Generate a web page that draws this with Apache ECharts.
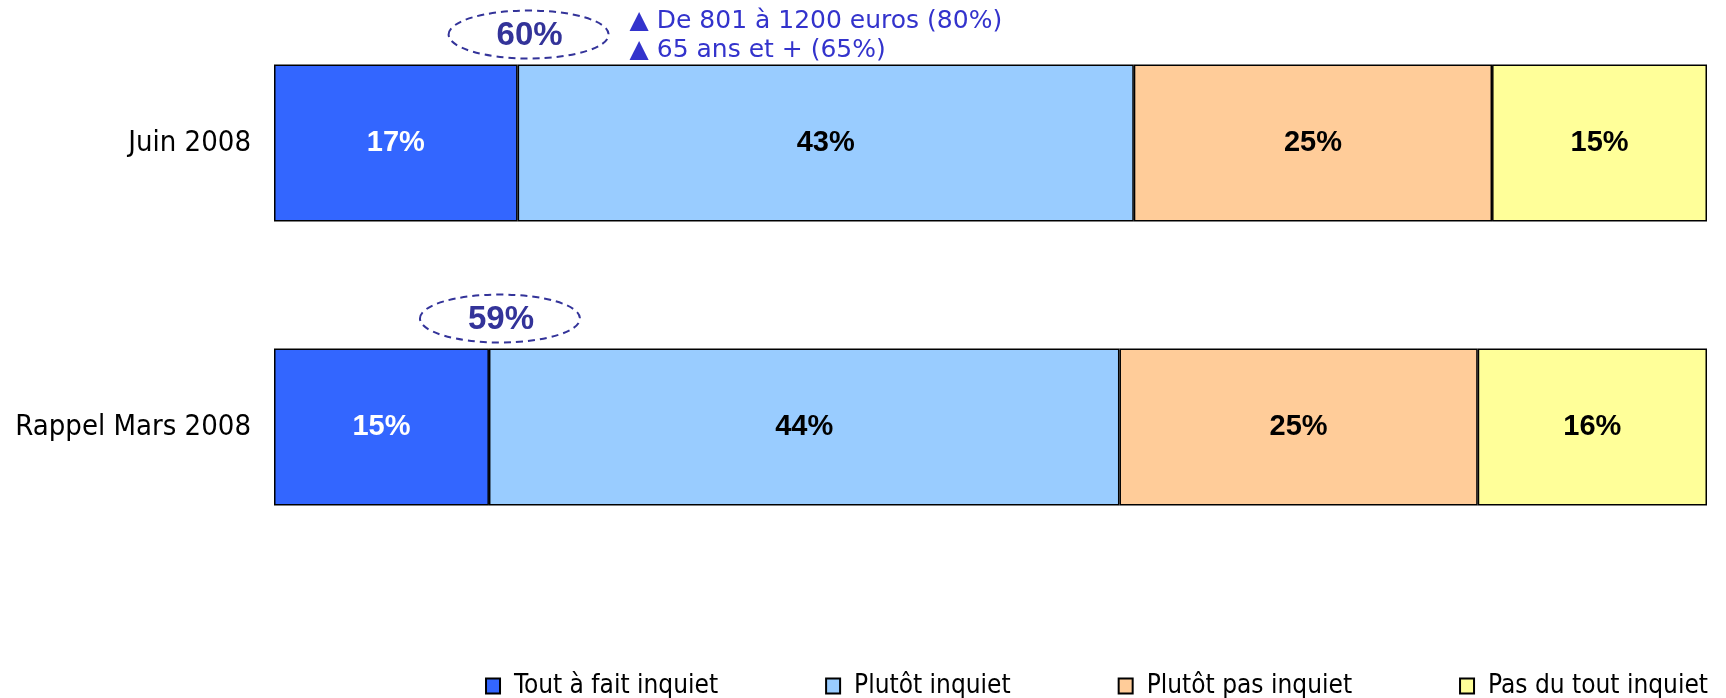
<!DOCTYPE html>
<html>
<head>
<meta charset="utf-8">
<script src="https://cdn.jsdelivr.net/npm/echarts@6/dist/echarts.min.js"></script>
<style>
  html, body { margin: 0; padding: 0; background: #fff; }
  #chart { width: 1726px; height: 698px; }
</style>
</head>
<body>
<div id="chart"></div>
<script>
// catégories (de haut en bas)
const categories = ['Juin 2008', 'Rappel Mars 2008'];

// séries (%)
const toutAFait = [17, 15];
const plutotInquiet = [43, 44];
const plutotPas = [25, 25];
const pasDuTout = [15, 16];

const seriesNames = ['Tout à fait inquiet', 'Plutôt inquiet', 'Plutôt pas inquiet', 'Pas du tout inquiet'];
const seriesColors = ['#3366FF', '#99CCFF', '#FFCC99', '#FFFF99'];

// sous-populations signalées au-dessus de la barre
const details = [
  ['De 801 à 1200 euros (80%)', '65 ans et + (65%)'],
  []
];

const condensed = "'DejaVu Sans Condensed', 'DejaVu Sans', sans-serif";
const boldFont = "'Liberation Sans', Arial, sans-serif";

const chart = echarts.init(document.getElementById('chart'));

function makeSeries(name, data, idx) {
  return {
    name: name,
    type: 'bar',
    stack: 'total',
    data: data,
    barWidth: 157,
    itemStyle: {
      color: seriesColors[idx],
      borderColor: '#000',
      borderWidth: 1.5
    },
    label: {
      show: true,
      position: 'inside',
      formatter: '{c}%',
      color: idx === 0 ? '#fff' : '#000',
      fontFamily: boldFont,
      fontWeight: 'bold',
      fontSize: 29
    },
    emphasis: { disabled: true }
  };
}

const option = {
  animation: false,
  grid: { left: 274, right: 19, top: 1, height: 568 },
  xAxis: {
    type: 'value',
    min: 0,
    max: 100,
    show: false
  },
  yAxis: {
    type: 'category',
    data: categories,
    inverse: true,
    axisLine: { show: false },
    axisTick: { show: false },
    axisLabel: {
      margin: 23,
      color: '#000',
      fontFamily: condensed,
      fontSize: 29
    }
  },
  legend: {
    bottom: -1,
    right: 18,
    padding: 0,
    itemGap: 107,
    itemWidth: 14,
    itemHeight: 15,
    icon: 'rect',
    textStyle: {
      fontFamily: condensed,
      fontSize: 26,
      color: '#000',
      padding: [0, 0, 0, 9]
    },
    data: seriesNames
  },
  series: [
    makeSeries(seriesNames[0], toutAFait, 0),
    makeSeries(seriesNames[1], plutotInquiet, 1),
    makeSeries(seriesNames[2], plutotPas, 2),
    makeSeries(seriesNames[3], pasDuTout, 3)
  ]
};

chart.setOption(option);

// annotations : total "inquiet" entouré + détails
function drawNotes() {
  const elements = [];
  categories.forEach((cat, i) => {
    const total = toutAFait[i] + plutotInquiet[i];
    const p = chart.convertToPixel({ xAxisIndex: 0, yAxisIndex: 0 }, [toutAFait[i], i]);
    const barTop = p[1] - 157 / 2;
    const cx = p[0] + 11;
    const cy = barTop - 30;
    elements.push({
      type: 'ellipse',
      shape: { cx: cx, cy: cy, rx: 80, ry: 24 },
      style: { fill: null, stroke: '#333399', lineWidth: 2, lineDash: [7, 5] },
      silent: true
    });
    elements.push({
      type: 'text',
      x: cx + 1,
      y: cy + 1,
      style: {
        text: total + '%',
        fill: '#333399',
        font: "bold 33px 'Liberation Sans', sans-serif",
        align: 'center',
        verticalAlign: 'middle'
      },
      silent: true
    });
    if (details[i].length) {
      elements.push({
        type: 'text',
        x: p[0] + 112,
        y: barTop - 58,
        style: {
          text: details[i].map(d => '▲ ' + d).join('\n'),
          fill: '#3333CC',
          font: "25px 'DejaVu Sans', sans-serif",
          lineHeight: 29,
          align: 'left',
          verticalAlign: 'top'
        },
        silent: true
      });
    }
  });
  chart.setOption({ graphic: { elements: elements } });
}
drawNotes();
</script>
</body>
</html>
